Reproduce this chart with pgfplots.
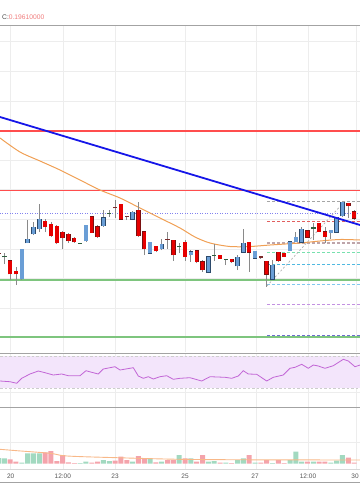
\documentclass[border=0pt]{standalone}
\usepackage{pgfplots}
\pgfplotsset{compat=1.18}
\usepackage{pgfplotstable}
\usepackage{fontspec}
\setmainfont{Liberation Sans}

\definecolor{gridc}{HTML}{EDEDED}
\definecolor{sepc}{HTML}{A3A3A3}
\definecolor{resred}{HTML}{FF4D4D}
\definecolor{supgreen}{HTML}{7EC57E}
\definecolor{trendblue}{HTML}{1616E8}
\definecolor{maorange}{HTML}{F0A055}
\definecolor{upfill}{HTML}{6A9ED6}
\definecolor{upedge}{HTML}{2C4A6B}
\definecolor{dnfill}{HTML}{E60000}
\definecolor{dnedge}{HTML}{7A1010}
\definecolor{wickc}{HTML}{8A8A8A}
\definecolor{dojig}{HTML}{2F5E3E}
\definecolor{dojir}{HTML}{7A2A2A}
\definecolor{rsiband}{HTML}{F3E5FB}
\definecolor{rsiline}{HTML}{C266D6}
\definecolor{volg}{HTML}{A2D9C0}
\definecolor{volr}{HTML}{F4A3AB}
\definecolor{volma}{HTML}{F8B888}
\definecolor{labc}{HTML}{4A4A4A}
\definecolor{salmon}{HTML}{F07C7C}
\definecolor{timec}{HTML}{555555}

% candle wicks: index, wick top (px), wick bottom (px)
\pgfplotstableread{
j wt wb
0 250 256
1 253 264
2 260 280
3 267 285
4 249 279.5
5 220 243
6 222 235
7 204 232
8 219 232
9 222 237
10 225 244
11 231 249
12 233 243
13 237 242.5
14 242.5 243.5
15 224.5 241.5
16 216 233
17 225 238
18 210 227
19 210 217
20 200 218
21 203.5 219.5
22 216 220
23 210.7 220
24 202 237
25 231 255
26 242 254
27 245.5 252
28 239.3 250
29 232 249
30 240 260.7
31 243.3 253.3
32 240 260.7
33 250 261.7
34 250 263.3
35 260 271.7
36 256 273
37 244 260.7
38 255 259
39 259.3 265
40 258.5 262.5
41 255 270
42 229.3 252.7
43 241.7 271.7
44 250.5 259
45 255.5 258.5
46 261 286.7
47 260 279.5
48 251.5 261.5
49 253 257
50 240.7 251
51 231.7 242.3
52 227.3 242.7
53 230 237.7
54 223.3 240
55 223 232
56 227.3 243.3
57 230 239.3
58 217 232.7
59 201.7 216.7
60 203.3 218.3
61 210 220
}\wicks

% rising candles: body top, body bottom (px)
\pgfplotstableread{
j bt bb
4 249 279
5 239 243
6 227 234
7 219 229
15 225 241
18 217.7 225.7
23 212.3 219.3
26 242.3 253.3
28 244 249
33 251.7 255
36 256.7 272.3
41 257.3 266
42 243.3 252.3
44 251 258.3
47 265 279.3
50 241.7 250.7
51 237.3 241.7
52 229 242.3
57 230 232.7
58 217.3 232.3
59 202.3 216
}\upb

% falling candles
\pgfplotstableread{
j bt bb
2 260.7 274
3 271 274
8 221 227
9 224 236
10 226 243
11 232 238
12 234 241
13 238 242
16 216.7 232.7
17 226.7 236.7
21 204 219.3
24 210 235.7
25 231.7 249
27 246 251
30 240 255
32 242.3 256.7
34 250.7 261.7
35 261.7 270
38 255.3 258.7
40 259 262
43 242.3 252.3
46 261 274.3
48 252 261
49 253.3 256.7
53 230.7 237.3
55 223.3 231.7
56 231.7 236.7
60 203.3 206
61 211.7 218.3
}\dnb

% doji candles
\pgfplotstableread{
j bt bb
1 256 257.3
14 242.5 243.5
19 212.5 213.6
31 246 247.3
37 254.5 255.6
39 258.8 259.9
54 227.3 229.3
}\dojig

\pgfplotstableread{
j bt bb
0 252.5 254
20 206.7 208.3
22 215.5 216.6
29 238.8 239.9
45 256 258.3
}\dojir

% volume (height above base, px)
\pgfplotstableread{
j v
0 5.5
1 5.2
4 0.8
5 10.2
6 10.2
7 10.2
14 0.5
15 1.8
18 3.5
19 2.5
23 1.8
26 4.5
28 1.8
31 8.5
33 5.2
36 1.8
37 2.5
39 0.8
41 3.5
42 5.2
44 0.8
47 0.4
50 3.5
51 11.8
52 1.8
54 1.8
57 0.8
58 2.8
59 8.5
}\volup

\pgfplotstableread{
j v
2 4.2
3 1.8
8 11.2
9 12.5
10 2.5
11 8.5
12 1.2
13 0.5
16 0.8
17 1.8
20 2.8
21 6.8
22 3.5
24 7.5
25 4.5
27 1.2
29 3.5
30 3.5
32 5.2
34 1.8
35 8.5
38 0.8
40 0.4
43 8.5
45 0.8
46 3.5
48 3.5
49 0.4
53 1.8
55 1.8
56 1.8
60 5.8
61 0.8
}\voldn

\pgfplotsset{
  panel/.style={
    scale only axis, width=360bp, xmin=0, xmax=360,
    axis line style={draw=none}, tick style={draw=none},
    xtick={10,63,115,185,256,308,356},
    xticklabels={}, yticklabels={},
    grid=major, major grid style={draw=gridc, line width=0.8bp},
    anchor=north west, clip=true},
  wickstyle/.style={draw=none, mark=none, forget plot,
    error bars/.cd, y dir=plus, y explicit, error mark=none,
    error bar style={draw=wickc, line width=0.8bp}},
  bodystyle/.style 2 args={draw=none, mark=none, forget plot,
    error bars/.cd, y dir=plus, y explicit, error mark=none,
    error bar style={draw=#1, line width=#2}},
}

\begin{document}
\begin{tikzpicture}
\useasboundingbox (0,0) rectangle (360bp,-504bp);

% ---------------- main price panel ----------------
\begin{axis}[panel, at={(0,-25bp)}, height=327bp, ymin=-352, ymax=-25,
  ytick={-41.7,-71.3,-100.9,-130.5,-160.1,-189.7,-219.3,-248.9,-278.5,-308.1,-337.7}]
% horizontal levels
\addplot[resred, line width=1.5bp] coordinates {(0,-131) (360,-131)};
\addplot[resred, line width=1.5bp] coordinates {(0,-190.7) (360,-190.7)};
\addplot[supgreen, line width=1.6bp] coordinates {(0,-280) (360,-280)};
\addplot[supgreen, line width=1.6bp] coordinates {(0,-337) (360,-337)};
\addplot[color={rgb,255:red,130;green,130;blue,240}, line width=0.7bp, dash pattern=on 1bp off 1.5bp] coordinates {(0,-213.3) (360,-213.3)};
% retracement levels
\addplot[color={rgb,255:red,165;green,165;blue,165}, line width=0.8bp, dash pattern=on 3bp off 2bp] coordinates {(267,-201.7) (360,-201.7)};
\addplot[color={rgb,255:red,225;green,95;blue,95}, line width=0.8bp, dash pattern=on 3bp off 2bp] coordinates {(267,-221) (360,-221)};
\addplot[color={rgb,255:red,190;green,165;blue,170}, line width=1.6bp, dash pattern=on 3bp off 2bp] coordinates {(267,-243) (360,-243)};
\addplot[color={rgb,255:red,120;green,225;blue,175}, line width=0.8bp, dash pattern=on 3bp off 2bp] coordinates {(267,-252.3) (360,-252.3)};
\addplot[color={rgb,255:red,80;green,185;blue,225}, line width=0.8bp, dash pattern=on 3bp off 2bp] coordinates {(267,-264.5) (360,-264.5)};
\addplot[color={rgb,255:red,130;green,200;blue,240}, line width=0.8bp, dash pattern=on 3bp off 2bp] coordinates {(267,-284.3) (360,-284.3)};
\addplot[color={rgb,255:red,195;green,145;blue,225}, line width=0.8bp, dash pattern=on 3bp off 2bp] coordinates {(267,-304) (360,-304)};
\addplot[color={rgb,255:red,110;green,110;blue,210}, line width=0.8bp, dash pattern=on 3bp off 2bp] coordinates {(267,-335) (360,-335)};
\addplot[color={rgb,255:red,175;green,175;blue,175}, line width=0.7bp, dash pattern=on 2bp off 2bp] coordinates {(267,-286) (345,-201)};
% moving average
\addplot[maorange, line width=1bp, smooth] coordinates {
(0,-138) (20,-152) (40,-161) (60,-170) (80,-180) (100,-190) (120,-198)
(140,-208) (160,-218) (180,-228) (195,-237) (210,-243) (230,-246.5)
(250,-246.5) (270,-245) (300,-243) (320,-241) (340,-239.5) (360,-240)};
% candles
\addplot[wickstyle] table[x expr=-1.5+5.83*\thisrow{j}, y expr=-\thisrow{wb}, y error expr=\thisrow{wb}-\thisrow{wt}] {\wicks};
\addplot[bodystyle={upedge}{4.4bp}] table[x expr=-1.5+5.83*\thisrow{j}, y expr=-\thisrow{bb}-0.4, y error expr=\thisrow{bb}-\thisrow{bt}+0.8] {\upb};
\addplot[bodystyle={upfill}{3.4bp}] table[x expr=-1.5+5.83*\thisrow{j}, y expr=-\thisrow{bb}, y error expr=\thisrow{bb}-\thisrow{bt}] {\upb};
\addplot[bodystyle={dnedge}{4.4bp}] table[x expr=-1.5+5.83*\thisrow{j}, y expr=-\thisrow{bb}-0.4, y error expr=\thisrow{bb}-\thisrow{bt}+0.8] {\dnb};
\addplot[bodystyle={dnfill}{3.4bp}] table[x expr=-1.5+5.83*\thisrow{j}, y expr=-\thisrow{bb}, y error expr=\thisrow{bb}-\thisrow{bt}] {\dnb};
\addplot[bodystyle={dojig}{4.4bp}] table[x expr=-1.5+5.83*\thisrow{j}, y expr=-\thisrow{bb}, y error expr=\thisrow{bb}-\thisrow{bt}] {\dojig};
\addplot[bodystyle={dojir}{4.4bp}] table[x expr=-1.5+5.83*\thisrow{j}, y expr=-\thisrow{bb}, y error expr=\thisrow{bb}-\thisrow{bt}] {\dojir};
% trend line
\addplot[trendblue, line width=1.8bp] coordinates {(0,-117) (360,-225)};
\end{axis}

% ---------------- RSI panel ----------------
\begin{axis}[panel, at={(0,-353bp)}, height=54bp, ymin=-407, ymax=-353,
  ytick={-371.7,-392.7}]
\addplot[fill=rsiband, draw=none] coordinates {(0,-356) (360,-356) (360,-388.3) (0,-388.3)} -- cycle;
\addplot[color={rgb,255:red,205;green,205;blue,205}, line width=0.8bp, dash pattern=on 2.5bp off 2bp] coordinates {(0,-356) (360,-356)};
\addplot[color={rgb,255:red,205;green,205;blue,205}, line width=0.8bp, dash pattern=on 2.5bp off 2bp] coordinates {(0,-388.3) (360,-388.3)};
\addplot[rsiline, line width=0.8bp] coordinates {
(0,-381) (10,-381.7) (16.7,-383.3) (21.7,-378.3) (30,-374) (38.3,-371) (45,-372.7)
(53.3,-375) (61.7,-374) (68.3,-375.7) (80,-375.7) (86,-370.7) (91.7,-372.3) (98.3,-374)
(103.3,-369) (115,-366.7) (120,-370) (133.3,-367.7) (138.3,-376) (143.3,-378.3)
(148.3,-376.7) (153.3,-379) (160,-376.7) (166.7,-375.7) (173.3,-379.3) (180,-378.3)
(190,-377.7) (201.7,-381) (210,-376.7) (225,-377.3) (231.7,-378.3) (238.3,-376)
(243.3,-370.7) (248.3,-374) (256.7,-374.3) (266.7,-381) (273.3,-377.3) (283.3,-375)
(290,-368.3) (295,-367.3) (301.7,-364.3) (308.3,-368.3) (313.3,-365) (318.3,-366)
(325,-368.3) (333.3,-365.7) (343.3,-359.3) (348.3,-361) (355,-366.7) (360,-365)};
\end{axis}

% ---------------- volume panel ----------------
\begin{axis}[panel, at={(0,-407bp)}, height=62bp, ymin=-5.5, ymax=56.5,
  ytick={21.5}]
\addplot[ybar, bar width=5, bar shift=0pt, fill=volg, draw=none] table[x expr=-1.5+5.83*\thisrow{j}, y=v] {\volup};
\addplot[ybar, bar width=5, bar shift=0pt, fill=volr, draw=none] table[x expr=-1.5+5.83*\thisrow{j}, y=v] {\voldn};
\addplot[volma, line width=0.9bp, smooth] coordinates {
(0,14.2) (17,12.8) (50,10.2) (67,7.5) (117,5.8) (180,4.2) (250,3.7) (360,3.5)};
\end{axis}

% panel separators and frame
\draw[sepc, line width=1bp] (0,-25bp) -- (360bp,-25bp);
\draw[sepc, line width=0.9bp] (0,-353bp) -- (360bp,-353bp);
\draw[sepc, line width=0.9bp] (0,-407bp) -- (360bp,-407bp);
\draw[color={rgb,255:red,215;green,215;blue,215}, line width=0.8bp] (0,-469.5bp) -- (360bp,-469.5bp);
\draw[sepc, line width=1bp] (0,-482bp) -- (360bp,-482bp);

% header
\node[anchor=base west, inner sep=0, font=\fontsize{6.7bp}{8bp}\selectfont] at (2bp,-19.5bp)
  {\textcolor{labc}{C:}\textcolor{salmon}{0.19610000}};

% time axis labels
\foreach \xx/\lab in {10.7/20, 62.8/12:00, 115/23, 185/25, 255/27, 308/12:00, 355/30}
  \node[inner sep=0, font=\fontsize{6.5bp}{8bp}\selectfont, text=timec] at (\xx bp,-475.8bp) {\lab};
\end{tikzpicture}
\end{document}
